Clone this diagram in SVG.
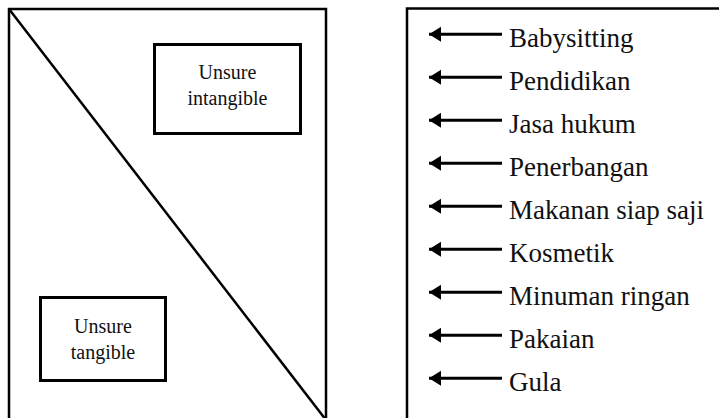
<svg xmlns="http://www.w3.org/2000/svg" width="719" height="418" viewBox="0 0 719 418">
<style>
.frame{fill:none;stroke:#000;stroke-width:2.5}
.box{fill:#fff;stroke:#000;stroke-width:3}
.lbl{font-family:'Liberation Serif','DejaVu Serif',serif;font-size:20px;fill:#111;text-anchor:middle}
.item{font-family:'Liberation Serif','DejaVu Serif',serif;font-size:27px;fill:#111}
.arr{stroke:#000;stroke-width:3;fill:none;marker-end:url(#ah)}
</style>
<defs>
<marker id="ah" markerUnits="userSpaceOnUse" markerWidth="14" markerHeight="16" refX="12" refY="8" orient="auto" overflow="visible">
<path d="M0,0.5 L12,8 L0,15.5 Z" fill="#000"/>
</marker>
</defs>
<rect width="719" height="418" fill="#fff"/>
<g id="left-panel">
<rect class="frame" x="9" y="9" width="317" height="420"/>
<line x1="9" y1="9" x2="326" y2="420" stroke="#000" stroke-width="2.5"/>
</g>
<g id="unsure-intangible">
<rect class="box" x="154.5" y="44.5" width="146" height="89"/>
<text class="lbl" x="227.5" y="79">Unsure</text>
<text class="lbl" x="227.5" y="105">intangible</text>
</g>
<g id="unsure-tangible">
<rect class="box" x="40.5" y="297.5" width="125" height="83"/>
<text class="lbl" x="103" y="333">Unsure</text>
<text class="lbl" x="103" y="359">tangible</text>
</g>
<g id="right-panel">
<rect class="frame" x="407" y="8.5" width="330" height="420"/>
</g>
<g id="connectors">
<line class="arr" x1="502" y1="34.3" x2="429" y2="34.3"/>
<line class="arr" x1="502" y1="77.3" x2="429" y2="77.3"/>
<line class="arr" x1="502" y1="120.3" x2="429" y2="120.3"/>
<line class="arr" x1="502" y1="163.3" x2="429" y2="163.3"/>
<line class="arr" x1="502" y1="206.3" x2="429" y2="206.3"/>
<line class="arr" x1="502" y1="249.3" x2="429" y2="249.3"/>
<line class="arr" x1="502" y1="292.3" x2="429" y2="292.3"/>
<line class="arr" x1="502" y1="335.3" x2="429" y2="335.3"/>
<line class="arr" x1="502" y1="378.3" x2="429" y2="378.3"/>
</g>
<g id="items">
<text class="item" x="509" y="47.3">Babysitting</text>
<text class="item" x="509" y="90.3">Pendidikan</text>
<text class="item" x="509" y="133.3">Jasa hukum</text>
<text class="item" x="509" y="176.3">Penerbangan</text>
<text class="item" x="509" y="219.3">Makanan siap saji</text>
<text class="item" x="509" y="262.3">Kosmetik</text>
<text class="item" x="509" y="305.3">Minuman ringan</text>
<text class="item" x="509" y="348.3">Pakaian</text>
<text class="item" x="509" y="391.3">Gula</text>
</g>
</svg>
